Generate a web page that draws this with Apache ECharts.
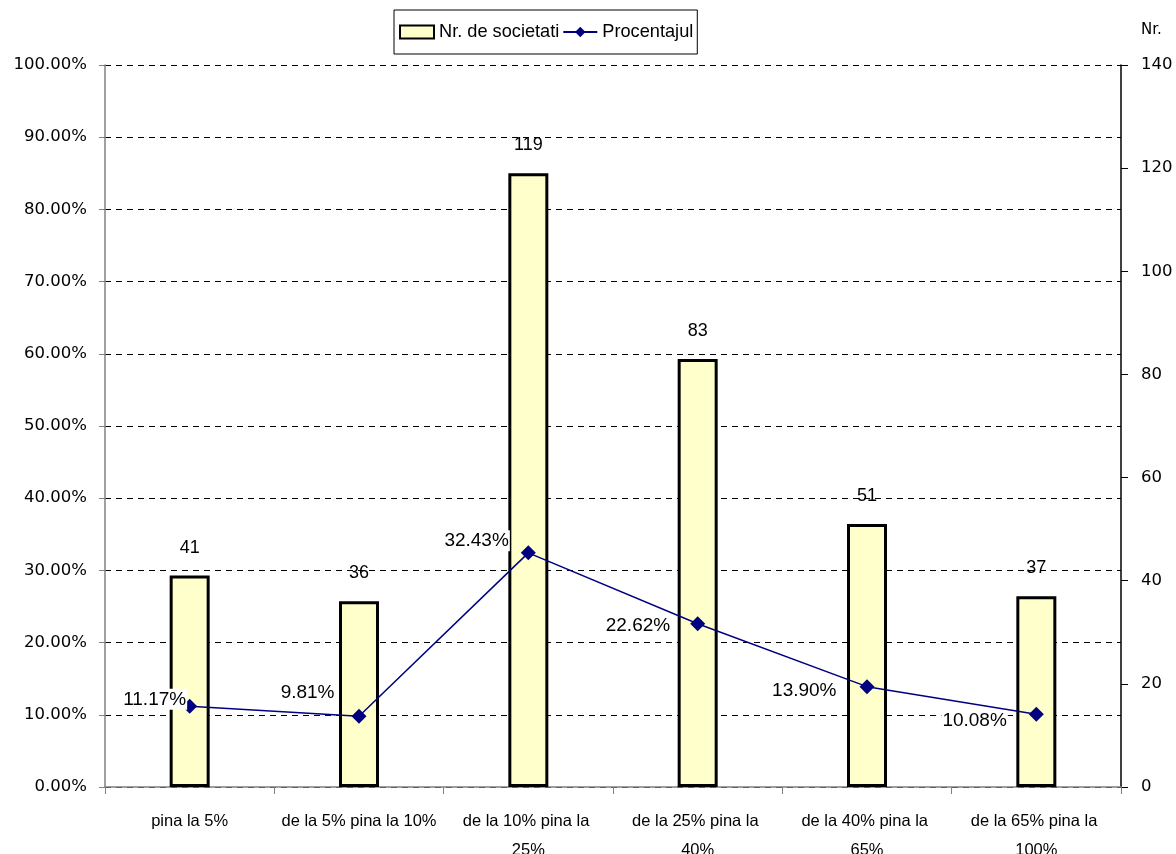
<!DOCTYPE html>
<html><head><meta charset="utf-8">
<script src="https://cdn.jsdelivr.net/npm/echarts@6/dist/echarts.min.js"></script>
<style>html,body{margin:0;padding:0;background:#fff}#c{width:1176px;height:854px}</style>
</head><body><div id="c"></div>
<script>
const categories = ['pina la 5%', 'de la 5% pina la 10%', 'de la 10% pina la 25%', 'de la 25% pina la 40%', 'de la 40% pina la 65%', 'de la 65% pina la 100%'];
const nrSocietati = [41, 36, 119, 83, 51, 37];
const procentajul = [11.17, 9.81, 32.43, 22.62, 13.90, 10.08];
const leftTicks = [0, 10, 20, 30, 40, 50, 60, 70, 80, 90, 100];
const rightTicks = [0, 20, 40, 60, 80, 100, 120, 140];

// label placement (style, not data)
const lineLabelOffsets = [[5, -7], [-16, -23], [-11, -12], [-19, 2], [-22, 4], [-21, 7]];

const chart = echarts.init(document.getElementById('c'));
const axFont = {fontFamily: 'DejaVu Sans', fontSize: 16.5, color: '#000'};
chart.setOption({
  animation: false,
  backgroundColor: '#fff',
  grid: {left: 105, right: 55, top: 65, bottom: 67, containLabel: false, outerBoundsMode: 'none'},
  legend: {
    left: 394, top: 10, orient: 'horizontal',
    borderColor: '#000', borderWidth: 1, padding: [13, 4, 13, 5],
    itemGap: 3, itemWidth: 34, itemHeight: 13,
    textStyle: {fontFamily: 'Liberation Sans', fontSize: 18.2, color: '#000'},
    data: [
      {name: 'Nr. de societati', icon: 'rect'},
      {name: 'Procentajul'}
    ]
  },
  xAxis: {
    type: 'category', data: categories, boundaryGap: true,
    axisLine: {lineStyle: {color: '#808080', width: 1.5}},
    axisTick: {show: true, length: 7, lineStyle: {color: '#808080'}},
    axisLabel: {interval: 0, fontFamily: 'Liberation Sans', fontSize: 16.5, color: '#000',
      margin: 20, width: 158, overflow: 'break', lineHeight: 29}
  },
  yAxis: [
    {
      type: 'value', min: leftTicks[0], max: leftTicks[leftTicks.length - 1], interval: 10,
      position: 'left',
      axisLine: {show: true, lineStyle: {color: '#808080', width: 1.5}},
      axisTick: {show: true, length: 6, lineStyle: {color: '#808080'}},
      axisLabel: Object.assign({margin: 18, formatter: v => v.toFixed(2) + '%'}, axFont),
      splitLine: {show: true, lineStyle: {color: '#000', type: [6, 5], width: 1}}
    },
    {
      type: 'value', min: rightTicks[0], max: rightTicks[rightTicks.length - 1], interval: 20,
      position: 'right', name: 'Nr.', nameGap: 27,
      nameTextStyle: {fontFamily: 'DejaVu Sans', fontSize: 15, color: '#000', align: 'left', padding: [0, 0, 0, 20]},
      axisLine: {show: true, lineStyle: {color: '#000', width: 1.5}},
      axisTick: {show: true, length: 7, lineStyle: {color: '#000'}},
      axisLabel: Object.assign({margin: 20}, axFont),
      splitLine: {show: false}
    }
  ],
  series: [
    {
      name: 'Nr. de societati', type: 'bar', yAxisIndex: 1, data: nrSocietati,
      barWidth: 40,
      itemStyle: {color: '#FFFFCC', borderColor: '#000', borderWidth: 3},
      label: {show: true, position: 'top', distance: 19, fontFamily: 'Liberation Sans', fontSize: 18, color: '#000'}
    },
    {
      name: 'Procentajul', type: 'line', yAxisIndex: 0,
      data: procentajul.map((v, i) => ({
        value: v,
        label: {offset: lineLabelOffsets[i]}
      })),
      symbol: 'diamond', symbolSize: 15,
      lineStyle: {color: '#000080', width: 1.5},
      itemStyle: {color: '#000080'},
      z: 5,
      label: {show: true, position: 'left', distance: 0,
        formatter: p => p.value.toFixed(2) + '%',
        fontFamily: 'Liberation Sans', fontSize: 19, color: '#000',
        backgroundColor: '#fff', padding: [1, 1]}
    }
  ]
});
</script></body></html>
